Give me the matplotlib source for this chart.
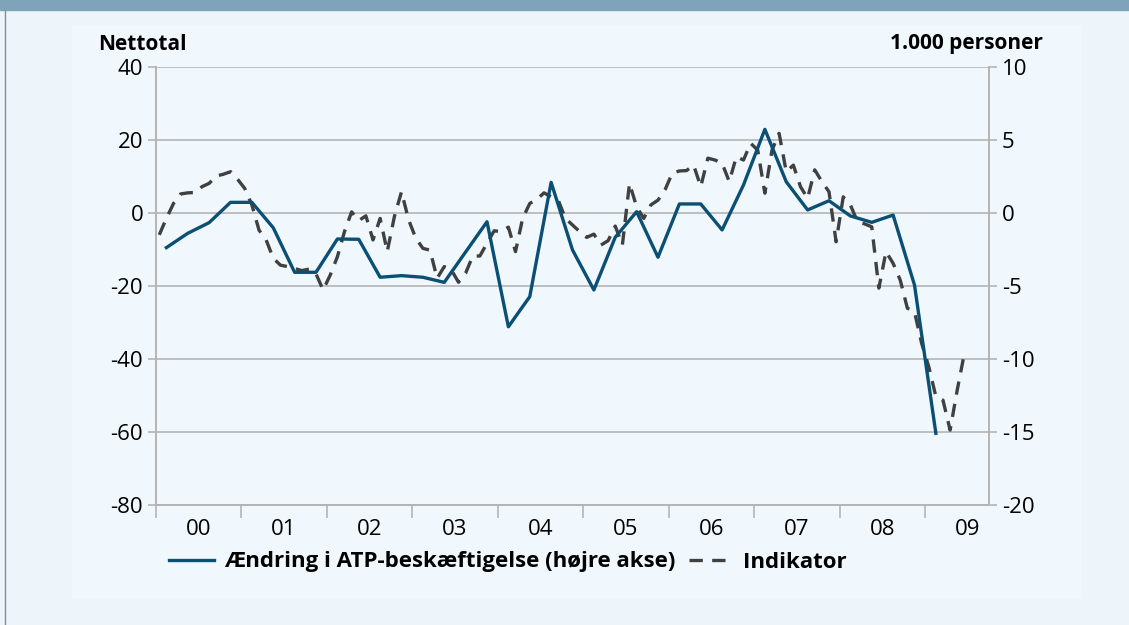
import numpy as np
import matplotlib.pyplot as plt
from matplotlib.lines import Line2D

plt.rcParams['font.family'] = ['Open Sans', 'DejaVu Sans']
plt.rcParams['axes.unicode_minus'] = False

year_labels = ['00', '01', '02', '03', '04', '05', '06', '07', '08', '09']

# Ændring i ATP-beskæftigelse, 1.000 personer (kvartal, 2000K1 - 2009K1), højre akse
atp = [-2.35, -1.37, -0.64, 0.75, 0.75, -0.99, -4.04, -4.04,
       -1.76, -1.78, -4.38, -4.27, -4.38, -4.73, -2.65, -0.58,
       -7.77, -5.71, 2.12, -2.51, -5.25, -1.64, 0.11, -3.01,
       0.64, 0.64, -1.14, 1.94, 5.75, 2.16, 0.23, 0.86,
       -0.18, -0.62, -0.12, -4.91, -15.07]

# Indikator, nettotal (måned, jan 2000 - jun 2009), venstre akse
indikator = [-5.9, -1.4, 2.7, 5.3, 5.6, 5.7, 7.3, 8.2, 10.2, 10.7, 11.4, 9.3,
             6.8, 2.3, -4.6, -7.3, -12.3, -14.2, -14.6, -15.1, -15.7, -15.3, -16.6, -21.0,
             -16.9, -11.9, -5.0, 0.4, -2.0, -0.7, -7.3, -1.4, -10.5, -0.9, 5.9, -1.8,
             -6.8, -9.6, -10.1, -17.8, -14.6, -15.5, -18.9, -16.4, -11.7, -11.7, -8.2, -4.8,
             -5.0, -3.8, -10.5, -1.4, 2.7, 3.8, 5.6, 4.5, 3.6, -1.4, -3.2, -5.0,
             -6.6, -5.7, -8.7, -7.5, -3.5, -8.7, 8.2, 1.8, -1.4, 2.3, 3.6, 6.5,
             11.0, 11.6, 11.7, 13.2, 7.3, 15.1, 14.6, 13.7, 8.7, 15.5, 14.6, 19.2,
             17.3, 5.5, 17.3, 21.9, 11.4, 13.2, 7.3, 4.1, 11.9, 8.7, 5.9, -7.8,
             4.5, 2.3, -2.3, -2.9, -3.7, -20.5, -10.5, -13.7, -18.3, -26.0, -27.0, -35.6,
             -42.0, -50.2, -51.2, -59.4, -48.4, -38.4]

# month positions (category axis, centre of each month)
x_month = np.arange(len(indikator)) + 0.5
x_quarter = np.arange(len(atp)) * 3 + 1.5

fig = plt.figure(figsize=(11.29, 6.25), dpi=100)
fig.patch.set_facecolor('#edf5fb')

# outer frame bits: top band, left border, inner chart area
fig.add_artist(plt.Rectangle((0, 1 - 10 / 625), 1, 10 / 625, transform=fig.transFigure,
                             color='#7fa3b9', zorder=0))
fig.add_artist(Line2D([5 / 1129, 5 / 1129], [0, 1 - 10 / 625], transform=fig.transFigure,
                      color='#7f8f9a', lw=1.0))
fig.add_artist(plt.Rectangle((72 / 1129, 1 - 598 / 625), (1080 - 72) / 1129, (598 - 25) / 625,
                             transform=fig.transFigure, color='#f1f8fd', zorder=0))

ax = fig.add_axes([155.7 / 1129, 1 - 505.3 / 625, (989.3 - 155.7) / 1129, (505.3 - 67.3) / 625])
ax.set_facecolor('none')
ax2 = ax.twinx()

grid_col = '#b4b4b4'
ax.set_ylim(-80, 40)
ax.set_yticks(range(-80, 41, 20))
ax.yaxis.grid(True, color=grid_col, lw=1.2)
ax.set_axisbelow(True)
ax.set_xlim(0, 117)
ax.set_xticks(np.arange(0, 117, 12))
ax.set_xticks(np.arange(6, 117, 12), minor=True)
ax.set_xticklabels([])
ax.set_xticklabels(year_labels, minor=True)
ax.tick_params(axis='x', which='major', length=9, color=grid_col, width=1.2)
ax.tick_params(axis='x', which='minor', length=0, pad=10, labelsize=16)
ax.tick_params(axis='y', length=6, color=grid_col, width=1.2, labelsize=16, pad=3)

ax2.set_ylim(-20, 10)
ax2.set_yticks(range(-20, 11, 5))
ax2.tick_params(axis='y', length=6, color=grid_col, width=1.2, labelsize=16, pad=3)

for a in (ax, ax2):
    a.spines['top'].set_visible(False)
    for s in ('left', 'right', 'bottom'):
        a.spines[s].set_color(grid_col)
        a.spines[s].set_linewidth(1.2)

ax.plot(x_month, indikator, color='#404040', lw=2.4, dashes=(4, 2.8), zorder=3)
ax2.plot(x_quarter, atp, color='#0b4f74', lw=2.4, zorder=4)

fig.text(98 / 1129, 1 - 44 / 625, 'Nettotal', fontsize=15, fontweight='bold', va='center', ha='left')
fig.text(1043 / 1129, 1 - 44 / 625, '1.000 personer', fontsize=15, fontweight='bold', va='center',
         ha='right')

handles = [Line2D([], [], color='#0b4f74', lw=2.4),
           Line2D([], [], color='#404040', lw=2.4, dashes=(4, 2.8))]
fig.legend(handles, ['Ændring i ATP-beskæftigelse (højre akse)', 'Indikator'],
           loc='center', bbox_to_anchor=(508 / 1129, 1 - 562 / 625), ncol=2, frameon=False,
           prop={'weight': 'bold', 'size': 16}, handlelength=2.0, columnspacing=0.6,
           handletextpad=0.45)

fig.savefig('out.png', dpi=100, facecolor=fig.get_facecolor())
